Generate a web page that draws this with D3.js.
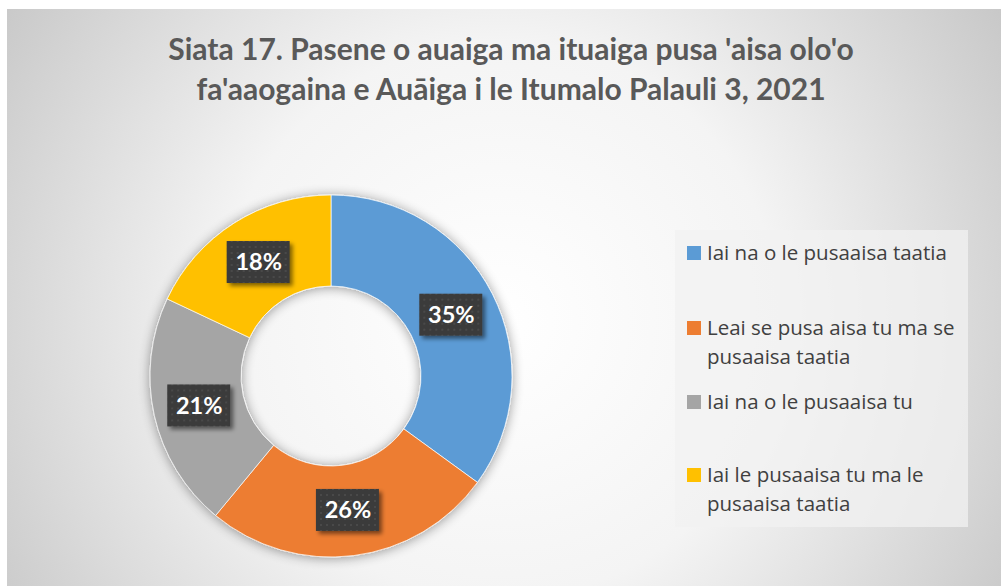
<!DOCTYPE html>
<html>
<head>
<meta charset="utf-8">
<script src="https://cdn.jsdelivr.net/npm/d3@7"></script>
<style>
  body { margin: 0; background: #fff; }
  svg { display: block; }
</style>
</head>
<body>
<script>
// chart values
var categories = [
  "Iai na o le pusaaisa taatia",
  "Leai se pusa aisa tu ma se pusaaisa taatia",
  "Iai na o le pusaaisa tu",
  "Iai le pusaaisa tu ma le pusaaisa taatia"
];
var values = [35, 26, 21, 18];
var legendLines = [
  ["Iai na o le pusaaisa taatia"],
  ["Leai se pusa aisa tu ma se", "pusaaisa taatia"],
  ["Iai na o le pusaaisa tu"],
  ["Iai le pusaaisa tu ma le", "pusaaisa taatia"]
];
var titleLines = [
  "Siata 17. Pasene o auaiga ma ituaiga pusa 'aisa olo'o",
  "fa'aaogaina e Auāiga i le Itumalo Palauli 3, 2021"
];
var colors = ["#5B9BD5", "#ED7D31", "#A5A5A5", "#FFC000"];

var W = 1001, H = 586;
var svg = d3.select("body").append("svg").attr("width", W).attr("height", H);
var defs = svg.append("defs");

// background gradient
var bg = defs.append("radialGradient").attr("id", "bg")
  .attr("gradientUnits", "userSpaceOnUse")
  .attr("cx", 500).attr("cy", 320).attr("r", 620);
bg.append("stop").attr("offset", "0%").attr("stop-color", "#ffffff");
bg.append("stop").attr("offset", "45%").attr("stop-color", "#f4f4f4");
bg.append("stop").attr("offset", "100%").attr("stop-color", "#c4c4c4");

// shadow filters
var sh = defs.append("filter").attr("id", "shadow")
  .attr("x", "-20%").attr("y", "-20%").attr("width", "140%").attr("height", "140%");
sh.append("feGaussianBlur").attr("in", "SourceAlpha").attr("stdDeviation", 6).attr("result", "b");
sh.append("feOffset").attr("in", "b").attr("dx", 0).attr("dy", 1).attr("result", "o");
sh.append("feComponentTransfer").attr("in", "o").attr("result", "s")
  .append("feFuncA").attr("type", "linear").attr("slope", 0.4);
var m = sh.append("feMerge");
m.append("feMergeNode").attr("in", "s");
m.append("feMergeNode").attr("in", "SourceGraphic");

var lsh = defs.append("filter").attr("id", "lshadow")
  .attr("x", "-30%").attr("y", "-30%").attr("width", "170%").attr("height", "170%");
lsh.append("feGaussianBlur").attr("in", "SourceAlpha").attr("stdDeviation", 2).attr("result", "b");
lsh.append("feOffset").attr("in", "b").attr("dx", 3).attr("dy", 3).attr("result", "o");
lsh.append("feComponentTransfer").attr("in", "o").attr("result", "s")
  .append("feFuncA").attr("type", "linear").attr("slope", 0.5);
var m2 = lsh.append("feMerge");
m2.append("feMergeNode").attr("in", "s");
m2.append("feMergeNode").attr("in", "SourceGraphic");

// dotted pattern for label boxes
var pat = defs.append("pattern").attr("id", "dots")
  .attr("patternUnits", "userSpaceOnUse").attr("width", 6).attr("height", 6);
pat.append("rect").attr("width", 6).attr("height", 6).attr("fill", "#3a3a3a");
pat.append("rect").attr("x", 2).attr("y", 2).attr("width", 2).attr("height", 2).attr("fill", "#4a4a4a");

// chart area
svg.append("rect").attr("x", 7).attr("y", 9).attr("width", W - 7).attr("height", H - 9)
  .attr("fill", "url(#bg)");

// title
svg.append("g").selectAll("text")
  .data(titleLines)
  .enter().append("text")
  .attr("x", 511)
  .attr("y", (d, i) => 60 + i * 40)
  .attr("text-anchor", "middle")
  .attr("font-family", "Lato, 'Open Sans', sans-serif")
  .attr("font-weight", 700)
  .attr("font-size", 30)
  .attr("fill", "#595959")
  .text(d => d);

// donut
var cx = 331, cy = 376, outerR = 181, innerR = 90;
var pie = d3.pie().sort(null).value(d => d);
var arcs = pie(values);
var arc = d3.arc().innerRadius(innerR).outerRadius(outerR);
var labelArc = d3.arc().innerRadius(135).outerRadius(135);

var g = svg.append("g").attr("transform", "translate(" + cx + "," + cy + ")");
g.append("g").attr("filter", "url(#shadow)")
  .selectAll("path")
  .data(arcs)
  .enter().append("path")
  .attr("d", arc)
  .attr("fill", (d, i) => colors[i])
  .attr("stroke", "#ffffff")
  .attr("stroke-width", 0.7);

// labels
var lab = g.selectAll("g.lab")
  .data(arcs)
  .enter().append("g")
  .attr("class", "lab")
  .attr("transform", d => "translate(" + labelArc.centroid(d) + ")");
lab.append("rect")
  .attr("x", -32).attr("y", -21).attr("width", 63).attr("height", 42)
  .attr("fill", "url(#dots)")
  .attr("filter", "url(#lshadow)");
lab.append("text")
  .attr("text-anchor", "middle")
  .attr("dy", "0.36em")
  .attr("font-family", "Lato, 'Open Sans', sans-serif")
  .attr("font-weight", 700)
  .attr("font-size", 23.5)
  .attr("fill", "#ffffff")
  .text(d => d.value + "%");

// legend
svg.append("rect").attr("x", 675).attr("y", 230).attr("width", 293).attr("height", 297)
  .attr("fill", "#f2f2f2").attr("opacity", 0.75);
var legY = [253, 328, 402, 475];
var leg = svg.append("g").selectAll("g")
  .data(categories)
  .enter().append("g")
  .attr("transform", (d, i) => "translate(687," + legY[i] + ")");
leg.append("rect").attr("x", 0).attr("y", -7).attr("width", 14).attr("height", 14)
  .attr("fill", (d, i) => colors[i]);
leg.append("text")
  .attr("font-family", "'Open Sans', sans-serif")
  .attr("font-size", 20.5)
  .attr("fill", "#404040")
  .selectAll("tspan")
  .data((d, i) => legendLines[i])
  .enter().append("tspan")
  .attr("x", 20)
  .attr("y", (d, j) => j * 29)
  .attr("dy", "0.35em")
  .text(d => d);
</script>
</body>
</html>
